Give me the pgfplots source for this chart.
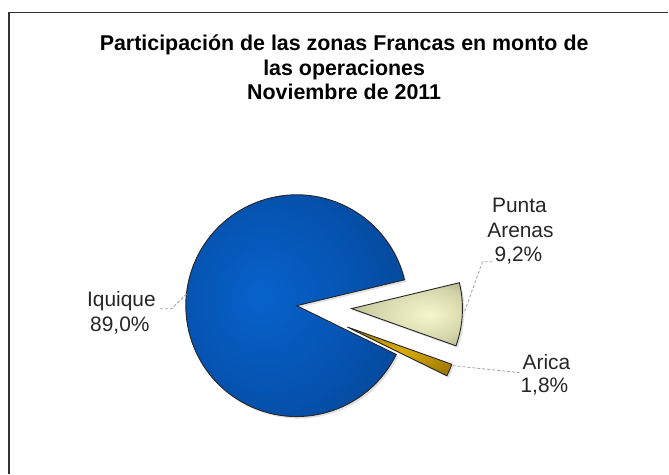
\documentclass[border=0pt]{standalone}
\usepackage{pgfplots}
\pgfplotsset{compat=1.18}
\usepackage{pgfplotstable}
\usepackage{fontspec}
\setmainfont{Liberation Sans}

% slice colours
\definecolor{blueL}{HTML}{0862CC}
\definecolor{blueM}{HTML}{0552AE}
\definecolor{blueD}{HTML}{04397C}
\definecolor{blueDD}{HTML}{032C62}
\definecolor{paL}{HTML}{F6F6CC}
\definecolor{paM}{HTML}{D4D4AA}
\definecolor{paD}{HTML}{989876}
\definecolor{paDD}{HTML}{5A5A44}
\definecolor{arL}{HTML}{DCAE08}
\definecolor{arD}{HTML}{8C6800}
\definecolor{leader}{HTML}{A0A0A0}

\pgfdeclareradialshading{blueshade}{\pgfpoint{-6bp}{2bp}}{%
  color(0bp)=(blueL); color(20bp)=(blueM); color(44bp)=(blueD); color(50bp)=(blueDD)}
\pgfdeclareradialshading{pashade}{\pgfpoint{10bp}{0bp}}{%
  color(0bp)=(paL); color(22bp)=(paM); color(42bp)=(paD); color(50bp)=(paDD)}
\pgfdeclareradialshading{arshade}{\pgfpoint{0bp}{0bp}}{%
  color(0bp)=(arL); color(40bp)=(arD); color(50bp)=(arD)}

% share of each zone (%), explode distance (bp), shading
\pgfplotstableread{
zone value explode shade
Iquique 89.0 0 blueshade
PuntaArenas 9.2 55 pashade
Arica 1.8 55 arshade
}\piedata

\begin{document}
\begin{tikzpicture}
\begin{axis}[
    width=669bp, height=474bp,
    scale only axis,
    xmin=0, xmax=669, ymin=0, ymax=474,
    hide axis,
    clip=false,
]
% keep the whole canvas in the bounding box
\path (axis cs:0,0) rectangle (axis cs:669,474);
% frame (only top and left edges are visible)
\draw[black!80, line width=1.4bp] (axis cs:9,0) -- (axis cs:9,461.3) -- (axis cs:669,461.3);

% pie slices, clockwise from the start angle
\def\cx{297}\def\cy{168}\def\rad{111bp}
\gdef\curang{333.9}
\pgfplotsforeachungrouped \i in {0,1,2}{%
  \pgfplotstablegetelem{\i}{value}\of\piedata \let\val\pgfplotsretval
  \pgfplotstablegetelem{\i}{explode}\of\piedata \let\ex\pgfplotsretval
  \pgfplotstablegetelem{\i}{shade}\of\piedata \let\sh\pgfplotsretval
  \pgfmathsetmacro\aend{\curang-3.6*\val}
  \pgfmathsetmacro\amid{(\curang+\aend)/2}
  \pgfmathsetmacro\px{\cx+\ex*cos(\amid)}
  \pgfmathsetmacro\py{\cy+\ex*sin(\amid)}
  \pgfmathsetmacro\sx{\px+2}
  \pgfmathsetmacro\sy{\py-2}
  \edef\doslice{%
    \noexpand\fill[black, opacity=0.12] (axis cs:\sx,\sy) -- ++(\curang:\rad)
      arc[start angle=\curang, end angle=\aend, radius=\rad] -- cycle;
    \noexpand\path[draw=black!85, line width=0.9bp, shading=\sh] (axis cs:\px,\py) -- ++(\curang:\rad)
      arc[start angle=\curang, end angle=\aend, radius=\rad] -- cycle;}%
  \doslice
  \global\let\curang\aend
}

% leader lines
\draw[leader, densely dashed, line width=0.8bp] (axis cs:160,165) -- (axis cs:172,165) -- (axis cs:187,180);
\draw[leader, densely dashed, line width=0.8bp] (axis cs:493,212) -- (axis cs:483,212) -- (axis cs:465,162);
\draw[leader, densely dashed, line width=0.8bp] (axis cs:453,108) -- (axis cs:520,101);

% title
\begin{scope}[every node/.style={anchor=base, text=black, font=\fontsize{21.5}{24.5}\selectfont\bfseries}]
\node at (axis cs:344.5,423) {Participación de las zonas Francas en monto de};
\node at (axis cs:344.5,398.5) {las operaciones};
\node at (axis cs:344.5,374) {Noviembre de 2011};
\end{scope}

% data labels
\begin{scope}[every node/.style={anchor=base, text=black!85, font=\fontsize{21}{24}\selectfont}]
\node at (axis cs:121.5,167) {Iquique};
\node at (axis cs:120,142) {89,0\%};
\node at (axis cs:520,261) {Punta};
\node at (axis cs:521,236) {Arenas};
\node at (axis cs:519,212) {9,2\%};
\node at (axis cs:547,104) {Arica};
\node at (axis cs:545,81) {1,8\%};
\end{scope}
\end{axis}
\end{tikzpicture}
\end{document}
